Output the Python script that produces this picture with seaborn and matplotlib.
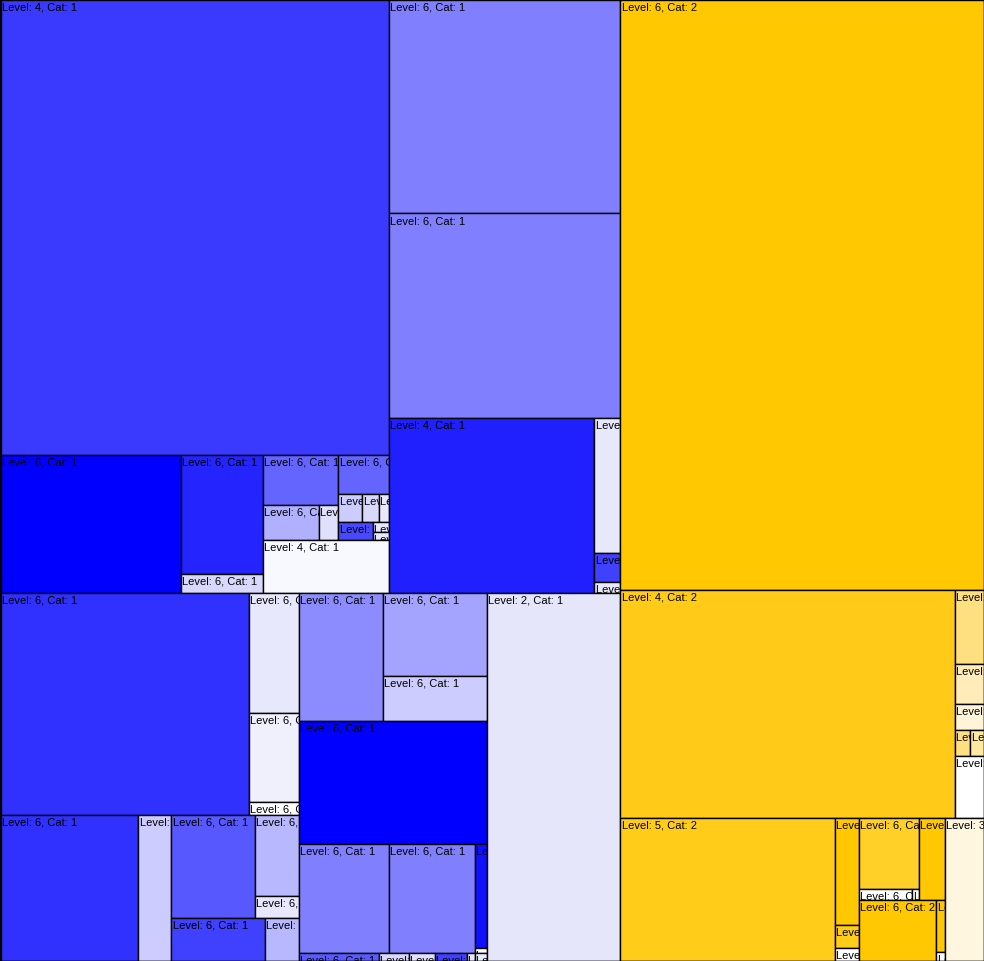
import matplotlib
matplotlib.use("Agg")
import matplotlib.pyplot as plt
from matplotlib.patches import Rectangle
import seaborn as sns

# leaf nodes of the treemap (value = area)
labels = [
    "Level: 4, Cat: 1", "Level: 6, Cat: 1", "Level: 6, Cat: 1", "Level: 6, Cat: 1",
    "Level: 6, Cat: 1", "Level: 6, Cat: 1", "Level: 6, Cat: 1", "Level: 6, Cat: 1",
    "Level: 6, Cat: 1", "Level: 6, Cat: 1", "Level: 6, Cat: 1", "Level: 6, Cat: 1",
    "Level: 6, Cat: 1", "Level: 6, Cat: 1", "Level: 4, Cat: 1", "Level: 6, Cat: 1",
    "Level: 6, Cat: 1", "Level: 4, Cat: 1", "Level: 6, Cat: 1", "Level: 6, Cat: 1",
    "Level: 6, Cat: 1", "Level: 6, Cat: 1", "Level: 6, Cat: 1", "Level: 6, Cat: 1",
    "Level: 6, Cat: 1", "Level: 6, Cat: 1", "Level: 6, Cat: 1", "Level: 6, Cat: 1",
    "Level: 6, Cat: 1", "Level: 6, Cat: 1", "Level: 6, Cat: 1", "Level: 6, Cat: 1",
    "Level: 6, Cat: 1", "Level: 6, Cat: 1", "Level: 6, Cat: 1", "Level: 6, Cat: 1",
    "Level: 6, Cat: 1", "Level: 6, Cat: 1", "Level: 6, Cat: 1", "Level: 6, Cat: 1",
    "Level: 6, Cat: 1", "Level: 6, Cat: 1", "Level: 6, Cat: 1", "Level: 6, Cat: 1",
    "Level: 6, Cat: 1", "Level: 6, Cat: 1", "Level: 2, Cat: 1",
    "Level: 6, Cat: 2", "Level: 4, Cat: 2", "Level: 6, Cat: 2", "Level: 6, Cat: 2",
    "Level: 6, Cat: 2", "Level: 6, Cat: 2", "Level: 6, Cat: 2", "Level: 6, Cat: 2",
    "Level: 5, Cat: 2", "Level: 6, Cat: 2", "Level: 6, Cat: 2", "Level: 6, Cat: 2",
    "Level: 6, Cat: 2", "Level: 6, Cat: 2", "Level: 6, Cat: 2", "Level: 6, Cat: 2",
    "Level: 6, Cat: 2", "Level: 6, Cat: 2", "Level: 6, Cat: 2", "Level: 3, Cat: 2",
]

values = [
    177384, 24978, 9758, 1558, 3750, 1960, 665, 1989, 672, 476, 280, 630, 160, 128,
    6678, 49434, 47355, 35875, 3510, 754, 286,
    55278, 6000, 4450, 650, 20148, 4818, 8652, 3564, 968, 4042, 1462,
    10752, 8632, 4680, 23124, 9810, 9374, 1248, 60, 640, 240, 208, 256, 64, 96,
    48944,
    215124, 76380, 2146, 1160, 754, 390, 364, 1798,
    30745, 2568, 552, 312, 4260, 583, 77, 2132, 4697, 468, 81, 5577,
]

colors = [
    "#3a3aff", "#0000ff", "#2424ff", "#d8d8fc", "#6464ff", "#b0b0ff", "#e0e0fc",
    "#6464ff", "#ccccff", "#d8d8fc", "#e8e8fc", "#4848ff", "#e8e8fc", "#e8e8fc",
    "#f8f8ff", "#8080ff", "#8080ff", "#2020ff", "#e8e8fc", "#4040ff", "#e8e8fc",
    "#3030ff", "#e8e8fc", "#f0f0fc", "#ffffff", "#3030ff", "#ccccff", "#5858ff",
    "#b8b8ff", "#e8e8fc", "#4040ff", "#b8b8ff",
    "#8c8cff", "#a4a4ff", "#ccccff", "#0000ff", "#8080ff", "#8080ff", "#1010ff",
    "#ffffff", "#5a5aff", "#d8d8fc", "#e0e0fc", "#4040ff", "#e8e8fc", "#e8e8fc",
    "#e6e6fa",
    "#ffc800", "#ffca18", "#ffe080", "#ffecb8", "#fff4d8", "#ffe080", "#ffe8a0",
    "#ffffff", "#ffcc1a", "#ffc800", "#ffcc1a", "#ffffff", "#ffd028", "#ffffff",
    "#ffffff", "#ffc800", "#ffc800", "#ffc800", "#ffffff", "#fff6e0",
]

# nesting of the slices: "h" = side by side, "v" = stacked
blue_top = ("h", [
    ("v", [0, ("h", [1, ("v", [2, 3]),
                     ("v", [("h", [("v", [4, ("h", [5, 6])]),
                                   ("v", [7, ("h", [8, 9, 10]), ("h", [11, ("v", [12, 13])])])]),
                            14])])]),
    ("v", [15, 16, ("h", [17, ("v", [18, 19, 20])])]),
])
blue_bottom = ("h", [
    ("h", [
        ("v", [("h", [21, ("v", [22, 23, 24])]),
               ("h", [25, 26, ("v", [("h", [27, ("v", [28, 29])]), ("h", [30, 31])])])]),
        ("v", [("h", [32, ("v", [33, 34])]), 35,
               ("v", [("h", [36, 37, ("v", [38, 39])]), ("h", [40, 41, 42, 43, 44, 45])])]),
    ]),
    46,
])
yellow = ("v", [
    47,
    ("h", [48, ("v", [49, 50, 51, ("h", [52, 53]), 54])]),
    ("h", [55,
           ("h", [("v", [56, 57, 58]),
                  ("v", [("h", [("v", [59, ("h", [60, 61])]), 62]),
                         ("h", [63, ("v", [64, 65])])])]),
           66]),
])
tree = ("h", [("v", [blue_top, blue_bottom]), yellow])

W, H = 984, 962


def total(node):
    if isinstance(node, int):
        return values[node]
    return sum(total(c) for c in node[1])


def layout(node, x, y, w, h, out):
    if isinstance(node, int):
        out.append((node, x, y, w, h))
        return
    direction, children = node
    s = total(node)
    pos = 0.0
    for c in children:
        frac = total(c) / s
        if direction == "h":
            layout(c, x + pos * w, y, frac * w, h, out)
        else:
            layout(c, x, y + pos * h, w, frac * h, out)
        pos += frac


sns.set_theme(style="white")
plt.rcParams["font.family"] = ["Liberation Sans", "DejaVu Sans"]

fig = plt.figure(figsize=(W / 100, H / 100), dpi=100)
ax = fig.add_axes([0, 0, 1, 1])
ax.set_xlim(0, W)
ax.set_ylim(H, 0)
ax.axis("off")

rects = []
layout(tree, 0, 0, W, H, rects)
for i, x, y, w, h in rects:
    patch = Rectangle((x, y), w, h, facecolor=colors[i], edgecolor="black", linewidth=1.0)
    ax.add_patch(patch)
    t = ax.text(x + 1.5, y + 2, labels[i], fontsize=8, color="black",
                ha="left", va="top", clip_on=True)
    t.set_clip_path(patch)

ax.add_patch(Rectangle((0.5, 0.5), W - 1, H - 1, fill=False, edgecolor="black", linewidth=1.0))

fig.savefig("out.png", dpi=100)
plt.close(fig)
